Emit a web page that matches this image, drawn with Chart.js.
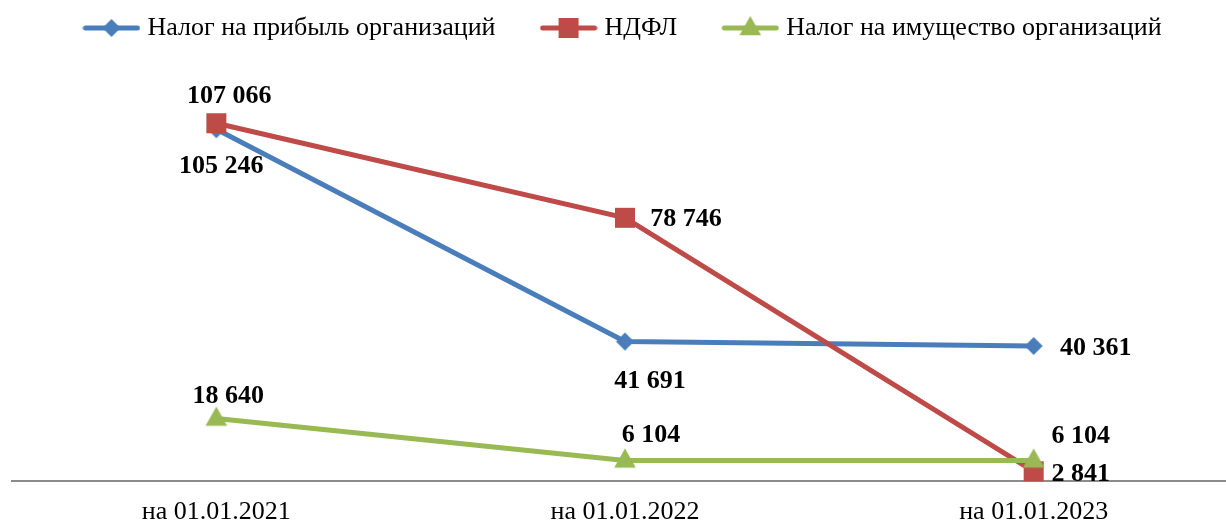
<!DOCTYPE html>
<html>
<head>
<meta charset="utf-8">
<script src="https://cdn.jsdelivr.net/npm/chart.js@4"></script>
<style>
    html, body { margin: 0; padding: 0; background: #fff; overflow: hidden; }
    #wrap { width: 1260px; height: 524px; margin-left: -5px; }
</style>
</head>
<body>
<div id="wrap"><canvas id="taxChart"></canvas></div>
<script>
"use strict";

const dates = ["на 01.01.2021", "на 01.01.2022", "на 01.01.2023"];
const seriesNames = ["Налог на прибыль организаций", "НДФЛ", "Налог на имущество организаций"];
const profitTax = [105246, 41691, 40361];
const personalTax = [107066, 78746, 2841];
const propertyTax = [18640, 6104, 6104];

// label offsets from the marker centre, per series and point
const labelOffsets = [
    [[5, 37], [25, 40], [62, 2]],
    [[13, -27], [61, 1], [47, 3]],
    [[12, -22], [26, -25], [47, -24]]
];

const SERIF = "'Liberation Serif', 'Times New Roman', serif";
const colors = ["#4a7ebb", "#be4b48", "#98b954"];
const markers = ["diamond", "square", "triangle"];
const markerSizes = [9, 10, 12];

function formatValue(v)
{
    return String(v).replace(/\B(?=(\d{3})+(?!\d))/g, " ");
}

function drawMarker(g, style, x, y, r)
{
    g.beginPath();
    if (style === "diamond") {
        g.moveTo(x, y - r);
        g.lineTo(x + r, y);
        g.lineTo(x, y + r);
        g.lineTo(x - r, y);
    } else if (style === "square") {
        g.rect(x - r, y - r, 2 * r, 2 * r);
    } else {
        g.moveTo(x, y - r);
        g.lineTo(x + r * 0.9, y + r * 0.6);
        g.lineTo(x - r * 0.9, y + r * 0.6);
    }
    g.closePath();
    g.fill();
}

function markerImage(i)
{
    const c = document.createElement("canvas");
    c.width = 30;
    c.height = 30;
    const g = c.getContext("2d");
    g.fillStyle = colors[i];
    drawMarker(g, markers[i], 15, 15, markerSizes[i]);
    return c;
}

function legendImage(i)
{
    const c = document.createElement("canvas");
    c.width = 58;
    c.height = 30;
    const g = c.getContext("2d");
    g.strokeStyle = colors[i];
    g.lineWidth = 5;
    g.lineCap = "round";
    g.beginPath();
    g.moveTo(3, 15);
    g.lineTo(55, 15);
    g.stroke();
    g.fillStyle = colors[i];
    drawMarker(g, markers[i], 29, 15, markerSizes[i]);
    return c;
}

const valueLabels = {
    id: "valueLabels",
    afterDatasetsDraw(chart)
    {
        const ctx = chart.ctx;
        ctx.save();
        ctx.font = "bold 26px " + SERIF;
        ctx.fillStyle = "#000";
        ctx.textAlign = "center";
        ctx.textBaseline = "middle";
        chart.data.datasets.forEach((ds, i) => {
            chart.getDatasetMeta(i).data.forEach((pt, j) => {
                const off = labelOffsets[i][j];
                ctx.fillText(formatValue(ds.data[j]), pt.x + off[0], pt.y + off[1]);
            });
        });
        ctx.restore();
    }
};

const legendGap = {
    id: "legendGap",
    beforeInit(chart)
    {
        const fit = chart.legend.fit;
        chart.legend.fit = function() {
            fit.call(this);
            this.height += 29;
        };
    }
};

const allSeries = [profitTax, personalTax, propertyTax];
const datasets = allSeries.map((values, i) => ({
    label: seriesNames[i],
    data: values,
    borderColor: colors[i],
    backgroundColor: colors[i],
    borderWidth: 5,
    pointStyle: markerImage(i),
    pointRadius: markerSizes[i],
    tension: 0,
    clip: false,
    order: 2 - i
}));

new Chart("taxChart", {
    type: "line",
    data: {
        labels: dates,
        datasets: datasets
    },
    options: {
        responsive: true,
        maintainAspectRatio: false,
        animation: false,
        layout: {padding: {left: 0, right: 0, top: -35, bottom: -20}},
        scales: {
            x: {
                offset: true,
                grid: {display: false, drawTicks: false},
                border: {display: true, color: "#8c8c8c", width: 2},
                ticks: {color: "#000", font: {family: SERIF, size: 26}, padding: 16, maxRotation: 0}
            },
            y: {display: false, min: 0, max: 120000}
        },
        plugins: {
            legend: {
                position: "top",
                labels: {
                    usePointStyle: true,
                    pointStyleWidth: 46,
                    padding: 50,
                    color: "#000",
                    font: {family: SERIF, size: 26},
                    generateLabels: (chart) => chart.data.datasets.map((ds, i) => ({
                        text: ds.label,
                        pointStyle: legendImage(i),
                        fillStyle: colors[i],
                        strokeStyle: colors[i],
                        lineWidth: 0,
                        hidden: false,
                        datasetIndex: i
                    }))
                }
            },
            tooltip: {enabled: false}
        }
    },
    plugins: [valueLabels, legendGap]
});
</script>
</body>
</html>
